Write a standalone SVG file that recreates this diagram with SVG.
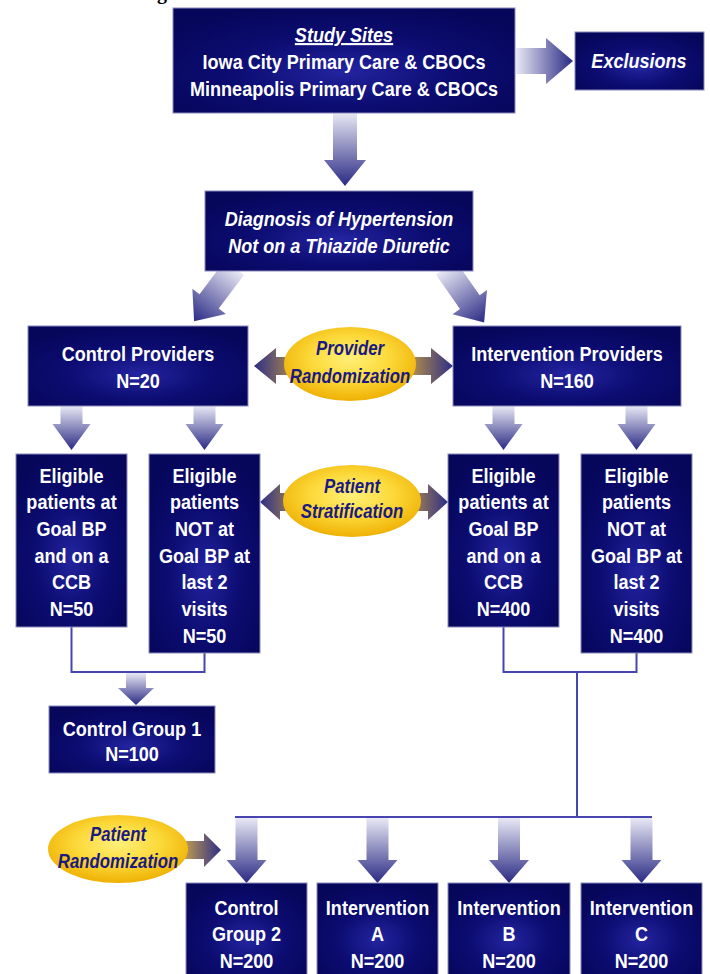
<svg xmlns="http://www.w3.org/2000/svg" width="710" height="974" viewBox="0 0 710 974">
<defs>
<style>
.box{fill:url(#gBox);stroke:#8a8abd;stroke-width:1}
.ell{fill:url(#gEll)}
.t{font-family:"Liberation Sans",Arial,sans-serif;font-weight:bold;font-size:21px;fill:#ffffff;text-anchor:middle}
.i{font-style:italic}
.et{font-family:"Liberation Sans",Arial,sans-serif;font-weight:bold;font-style:italic;font-size:20px;fill:#1a1a80;text-anchor:middle}
.ln{fill:none;stroke:#4646ae;stroke-width:2}
.ad{fill:url(#gDown)}
.ar{fill:url(#gRight)}
.dbl{fill:url(#gDouble)}
</style>
<radialGradient id="gBox" cx="0.5" cy="0.6" r="0.65">
<stop offset="0" stop-color="#2424a0"/>
<stop offset="0.5" stop-color="#0c0c72"/>
<stop offset="1" stop-color="#06065a"/>
</radialGradient>
<radialGradient id="gEll" cx="0.5" cy="0.42" r="0.6">
<stop offset="0" stop-color="#fff07a"/>
<stop offset="0.5" stop-color="#fcd93a"/>
<stop offset="1" stop-color="#eeae00"/>
</radialGradient>
<linearGradient id="gDown" x1="0" y1="0" x2="0" y2="1">
<stop offset="0" stop-color="#e8e8f5"/>
<stop offset="1" stop-color="#2a2a84"/>
</linearGradient>
<linearGradient id="gRight" x1="0" y1="0" x2="1" y2="0">
<stop offset="0" stop-color="#e8e8f5"/>
<stop offset="1" stop-color="#2a2a84"/>
</linearGradient>
<linearGradient id="gDouble" x1="0" y1="0" x2="1" y2="0">
<stop offset="0" stop-color="#2e2e86"/>
<stop offset="0.25" stop-color="#c9a040"/>
<stop offset="0.5" stop-color="#f2c640"/>
<stop offset="0.75" stop-color="#c9a040"/>
<stop offset="1" stop-color="#2e2e86"/>
</linearGradient>
<linearGradient id="gGold" x1="0" y1="0" x2="1" y2="0">
<stop offset="0" stop-color="#f0c040"/>
<stop offset="1" stop-color="#2e2e86"/>
</linearGradient>
</defs>
<rect width="710" height="974" fill="#ffffff"/>
<text x="157" y="-1" font-family="Liberation Serif,serif" font-weight="bold" font-size="20" fill="#000000">g</text>

<g id="connectors">
<path class="ar" d="M516,48 L546,48 L546,38 L573,61 L546,84 L546,74 L516,74 Z"/>
<path class="ad" d="M333,113 L357,113 L357,160 L366,160 L345,186 L324,160 L333,160 Z"/>
<g transform="translate(232,271) rotate(37)"><path class="ad" d="M-12,-4 L12,-4 L12,38 L21,38 L0,63 L-21,38 L-12,38 Z"/></g>
<g transform="translate(448,271) rotate(-35)"><path class="ad" d="M-12,-4 L12,-4 L12,38 L21,38 L0,63 L-21,38 L-12,38 Z"/></g>
<path class="dbl" d="M254,366 L276,348 L276,357 L431,357 L431,348 L453,366 L431,384 L431,375 L276,375 L276,384 Z"/>
<path class="ad" d="M60.5,406 L82.5,406 L82.5,424 L90.5,424 L71.5,450 L52.5,424 L60.5,424 Z"/>
<path class="ad" d="M193.5,406 L215.5,406 L215.5,424 L223.5,424 L204.5,450 L185.5,424 L193.5,424 Z"/>
<path class="ad" d="M492.5,406 L514.5,406 L514.5,424 L522.5,424 L503.5,450 L484.5,424 L492.5,424 Z"/>
<path class="ad" d="M625.5,406 L647.5,406 L647.5,424 L655.5,424 L636.5,450 L617.5,424 L625.5,424 Z"/>
<path class="dbl" d="M260,502 L280,484 L280,493 L428,493 L428,484 L448,502 L428,520 L428,511 L280,511 L280,520 Z"/>
<path class="ln" d="M71.5,627 V672 H204.5 V653"/>
<path class="ad" d="M126,673 L146,673 L146,688 L154,688 L136,705 L118,688 L126,688 Z"/>
<path class="ln" d="M503.5,627 V672 H636.5 V653"/>
<path class="ln" d="M577,672 V817"/>
<path class="ln" d="M235,817 H652"/>
<path class="ad" d="M235.5,818 L257.5,818 L257.5,860 L266.5,860 L246.5,883 L226.5,860 L235.5,860 Z"/>
<path class="ad" d="M366.5,818 L388.5,818 L388.5,860 L397.5,860 L377.5,883 L357.5,860 L366.5,860 Z"/>
<path class="ad" d="M498,818 L520,818 L520,860 L529,860 L509,883 L489,860 L498,860 Z"/>
<path class="ad" d="M630.5,818 L652.5,818 L652.5,860 L661.5,860 L641.5,883 L621.5,860 L630.5,860 Z"/>
<path fill="url(#gGold)" d="M172,841 L204,841 L204,833 L221,850 L204,867 L204,859 L172,859 Z"/>
</g>

<g id="study-sites">
<rect class="box" x="173" y="8" width="342" height="105"/>
<g transform="translate(344,0) scale(0.86,1)">
<text class="t i" x="0" y="42" text-decoration="underline">Study Sites</text>
<text class="t" x="0" y="69">Iowa City Primary Care &amp; CBOCs</text>
<text class="t" x="0" y="96">Minneapolis Primary Care &amp; CBOCs</text>
</g>
</g>

<g id="exclusions">
<rect class="box" x="575" y="32" width="129" height="58"/>
<g transform="translate(639,0) scale(0.86,1)"><text class="t i" x="0" y="68">Exclusions</text></g>
</g>

<g id="diagnosis">
<rect class="box" x="205" y="191" width="268" height="80"/>
<g transform="translate(339,0) scale(0.86,1)">
<text class="t i" x="0" y="226">Diagnosis of Hypertension</text>
<text class="t i" x="0" y="253">Not on a Thiazide Diuretic</text>
</g>
</g>

<g id="control-providers">
<rect class="box" x="28" y="326" width="220" height="80"/>
<g transform="translate(138,0) scale(0.86,1)">
<text class="t" x="0" y="361">Control Providers</text>
<text class="t" x="0" y="388">N=20</text>
</g>
</g>

<g id="provider-randomization">
<ellipse class="ell" cx="350" cy="364" rx="66" ry="37"/>
<g transform="translate(350,0) scale(0.84,1)">
<text class="et" x="0" y="355">Provider</text>
<text class="et" x="0" y="383">Randomization</text>
</g>
</g>

<g id="intervention-providers">
<rect class="box" x="453" y="326" width="228" height="80"/>
<g transform="translate(567,0) scale(0.86,1)">
<text class="t" x="0" y="361">Intervention Providers</text>
<text class="t" x="0" y="388">N=160</text>
</g>
</g>

<g id="control-goal">
<rect class="box" x="16" y="454" width="111" height="173"/>
<g transform="translate(71.5,0) scale(0.86,1)">
<text class="t" x="0" y="483">Eligible</text>
<text class="t" x="0" y="509">patients at</text>
<text class="t" x="0" y="536">Goal BP</text>
<text class="t" x="0" y="563">and on a</text>
<text class="t" x="0" y="589">CCB</text>
<text class="t" x="0" y="616">N=50</text>
</g>
</g>

<g id="control-notgoal">
<rect class="box" x="149" y="454" width="111" height="199"/>
<g transform="translate(204.5,0) scale(0.86,1)">
<text class="t" x="0" y="483">Eligible</text>
<text class="t" x="0" y="509">patients</text>
<text class="t" x="0" y="536">NOT at</text>
<text class="t" x="0" y="563">Goal BP at</text>
<text class="t" x="0" y="589">last 2</text>
<text class="t" x="0" y="616">visits</text>
<text class="t" x="0" y="643">N=50</text>
</g>
</g>

<g id="patient-stratification">
<ellipse class="ell" cx="352" cy="501" rx="69" ry="36"/>
<g transform="translate(352,0) scale(0.84,1)">
<text class="et" x="0" y="493">Patient</text>
<text class="et" x="0" y="518">Stratification</text>
</g>
</g>

<g id="intervention-goal">
<rect class="box" x="448" y="454" width="111" height="173"/>
<g transform="translate(503.5,0) scale(0.86,1)">
<text class="t" x="0" y="483">Eligible</text>
<text class="t" x="0" y="509">patients at</text>
<text class="t" x="0" y="536">Goal BP</text>
<text class="t" x="0" y="563">and on a</text>
<text class="t" x="0" y="589">CCB</text>
<text class="t" x="0" y="616">N=400</text>
</g>
</g>

<g id="intervention-notgoal">
<rect class="box" x="581" y="454" width="111" height="199"/>
<g transform="translate(636.5,0) scale(0.86,1)">
<text class="t" x="0" y="483">Eligible</text>
<text class="t" x="0" y="509">patients</text>
<text class="t" x="0" y="536">NOT at</text>
<text class="t" x="0" y="563">Goal BP at</text>
<text class="t" x="0" y="589">last 2</text>
<text class="t" x="0" y="616">visits</text>
<text class="t" x="0" y="643">N=400</text>
</g>
</g>

<g id="control-group-1">
<rect class="box" x="49" y="706" width="166" height="67"/>
<g transform="translate(132,0) scale(0.86,1)">
<text class="t" x="0" y="736">Control Group 1</text>
<text class="t" x="0" y="761">N=100</text>
</g>
</g>

<g id="patient-randomization">
<ellipse class="ell" cx="118" cy="849" rx="70" ry="34"/>
<g transform="translate(118,0) scale(0.84,1)">
<text class="et" x="0" y="841">Patient</text>
<text class="et" x="0" y="868">Randomization</text>
</g>
</g>

<g id="control-group-2">
<rect class="box" x="186" y="883" width="121" height="95"/>
<g transform="translate(246.5,0) scale(0.86,1)">
<text class="t" x="0" y="915">Control</text>
<text class="t" x="0" y="941">Group 2</text>
<text class="t" x="0" y="968">N=200</text>
</g>
</g>

<g id="intervention-a">
<rect class="box" x="317" y="883" width="121" height="95"/>
<g transform="translate(377.5,0) scale(0.86,1)">
<text class="t" x="0" y="915">Intervention</text>
<text class="t" x="0" y="941">A</text>
<text class="t" x="0" y="968">N=200</text>
</g>
</g>

<g id="intervention-b">
<rect class="box" x="448" y="883" width="122" height="95"/>
<g transform="translate(509,0) scale(0.86,1)">
<text class="t" x="0" y="915">Intervention</text>
<text class="t" x="0" y="941">B</text>
<text class="t" x="0" y="968">N=200</text>
</g>
</g>

<g id="intervention-c">
<rect class="box" x="581" y="883" width="121" height="95"/>
<g transform="translate(641.5,0) scale(0.86,1)">
<text class="t" x="0" y="915">Intervention</text>
<text class="t" x="0" y="941">C</text>
<text class="t" x="0" y="968">N=200</text>
</g>
</g>
</svg>
